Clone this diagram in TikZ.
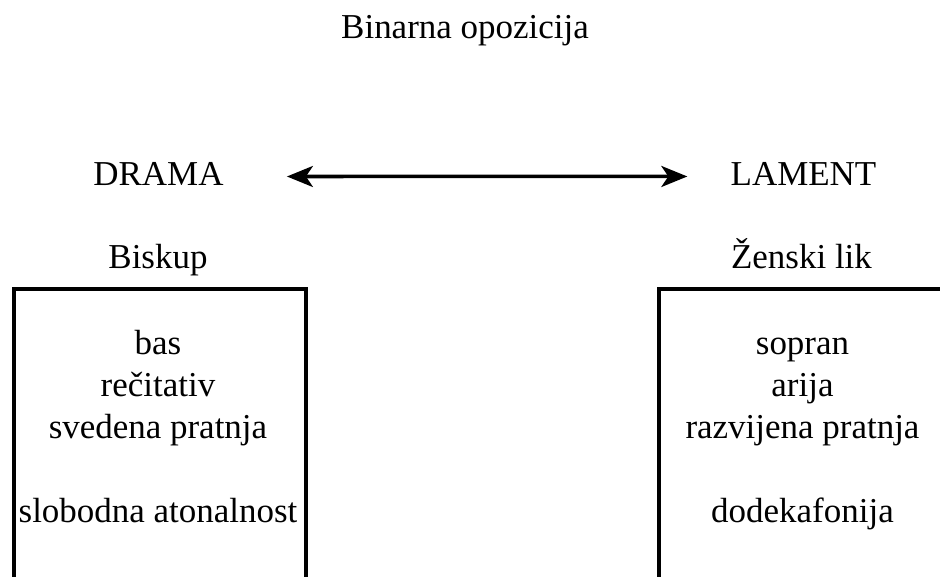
\documentclass[tikz,border=0pt]{standalone}
\usepackage{fontspec}
\setmainfont{Liberation Serif}
\usetikzlibrary{
    arrows.meta,
    %positioning,
}

\begin{document}
\begin{tikzpicture}[x=0.02cm, y=-0.02cm,
    font=\fontsize{19.9pt}{23.9pt}\selectfont,
    lbl/.style = {inner sep=0pt, anchor=base},
    panel/.style = {draw, line width=2.3pt, anchor=north west, minimum width=5.84cm, minimum height=8cm},
    biarrow/.style = {{Stealth[length=0.52cm, width=0.42cm, inset=0.14cm]}-{Stealth[length=0.52cm, width=0.42cm, inset=0.14cm]}, line width=2pt}]
    \useasboundingbox (0,0) rectangle (940,576);
    \clip (0,0) rectangle (940,576);
    \node[lbl] (naslov) at (465,38)    {Binarna opozicija};
    \node[lbl] (drama)  at (158.5,185) {DRAMA};
    \node[lbl] (lament) at (803.5,185) {LAMENT};
    \node[lbl] (biskup) at (158,268)   {Biskup};
    \node[lbl] (zena)   at (801.5,268) {Ženski lik};
    \node[panel] (levi)  at (12,287)  {};
    \node[panel] (desni) at (657,287) {};
    % base = last line
    \node[lbl, align=center] (bas)    at (158,522)   {bas\\rečitativ\\svedena pratnja\\ \\slobodna atonalnost};
    \node[lbl, align=center] (sopran) at (802.5,522) {sopran\\arija\\razvijena pratnja\\ \\dodekafonija};
    \draw[biarrow, shorten <=1.26cm, shorten >=0.86cm]
        ([yshift=-0.06cm]drama.east) -- ([yshift=-0.06cm]lament.west);
\end{tikzpicture}
\end{document}
